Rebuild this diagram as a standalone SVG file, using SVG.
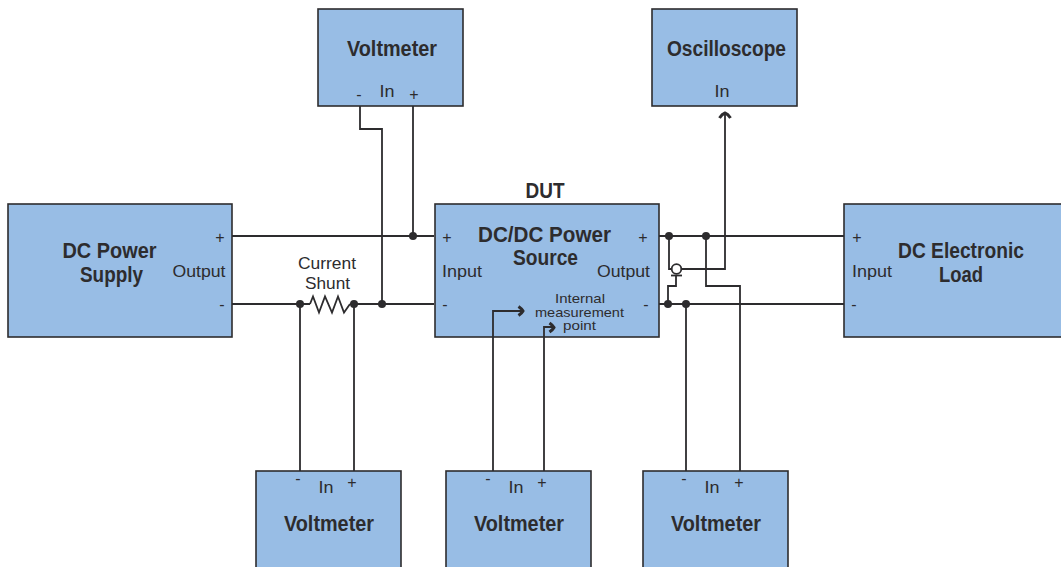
<svg xmlns="http://www.w3.org/2000/svg" width="1061" height="567" viewBox="0 0 1061 567">
<defs>
<style>
.box{fill:#98bde5;stroke:#2d2c2e;stroke-width:1.6}
.w{fill:none;stroke:#2d2c2e;stroke-width:1.8}
.a{fill:none;stroke:#2d2c2e;stroke-width:3}
.d{fill:#2d2c2e}
text{font-family:"Liberation Sans",Arial,sans-serif;fill:#2d2c2e;text-anchor:middle}
.t{font-size:22px;font-weight:bold}
.l{font-size:17px}
.s{font-size:13.500px}
.n{font-size:16px}
</style>
</defs>
<rect width="1061" height="567" fill="#ffffff"/>
<g id="voltmeter-top">
<rect class="box" x="318" y="9" width="145" height="97"/>
<text class="t" x="392" y="56" textLength="90" lengthAdjust="spacingAndGlyphs">Voltmeter</text>
<text class="n" x="359" y="100">-</text>
<text class="l" x="387" y="97" textLength="15" lengthAdjust="spacingAndGlyphs">In</text>
<text class="n" x="414" y="100">+</text>
</g>
<g id="oscilloscope">
<rect class="box" x="652" y="9" width="145" height="97"/>
<text class="t" x="726.500" y="56" textLength="119" lengthAdjust="spacingAndGlyphs">Oscilloscope</text>
<text class="l" x="722" y="97" textLength="15" lengthAdjust="spacingAndGlyphs">In</text>
</g>
<g id="dc-power-supply">
<rect class="box" x="8" y="204" width="224" height="133"/>
<text class="t" x="109.500" y="258" textLength="94" lengthAdjust="spacingAndGlyphs">DC Power</text>
<text class="t" x="111.500" y="282" textLength="63" lengthAdjust="spacingAndGlyphs">Supply</text>
<text class="n" x="220" y="243">+</text>
<text class="l" x="199" y="277" textLength="53" lengthAdjust="spacingAndGlyphs">Output</text>
<text class="n" x="222" y="310">-</text>
</g>
<g id="dut">
<text class="t" x="545" y="198" textLength="39" lengthAdjust="spacingAndGlyphs">DUT</text>
<rect class="box" x="435" y="204" width="224" height="133"/>
<text class="t" x="544.500" y="242" textLength="133" lengthAdjust="spacingAndGlyphs">DC/DC Power</text>
<text class="t" x="545.500" y="265" textLength="65" lengthAdjust="spacingAndGlyphs">Source</text>
<text class="n" x="447" y="243">+</text>
<text class="l" x="462" y="277" textLength="40" lengthAdjust="spacingAndGlyphs">Input</text>
<text class="n" x="445" y="310">-</text>
<text class="n" x="643" y="243">+</text>
<text class="l" x="623.500" y="277" textLength="53" lengthAdjust="spacingAndGlyphs">Output</text>
<text class="n" x="646" y="310">-</text>
<text class="s" x="580" y="303" textLength="50" lengthAdjust="spacingAndGlyphs">Internal</text>
<text class="s" x="579.500" y="316.500" textLength="89" lengthAdjust="spacingAndGlyphs">measurement</text>
<text class="s" x="579.500" y="330" textLength="33" lengthAdjust="spacingAndGlyphs">point</text>
</g>
<g id="shunt-label">
<text class="l" x="327" y="269" textLength="58" lengthAdjust="spacingAndGlyphs">Current</text>
<text class="l" x="327.500" y="289" textLength="45" lengthAdjust="spacingAndGlyphs">Shunt</text>
</g>
<g id="dc-electronic-load">
<rect class="box" x="844" y="204" width="224" height="133"/>
<text class="t" x="961" y="258" textLength="126" lengthAdjust="spacingAndGlyphs">DC Electronic</text>
<text class="t" x="961" y="282" textLength="44" lengthAdjust="spacingAndGlyphs">Load</text>
<text class="n" x="857" y="243">+</text>
<text class="l" x="872" y="277" textLength="40" lengthAdjust="spacingAndGlyphs">Input</text>
<text class="n" x="854" y="310">-</text>
</g>
<g id="voltmeter-1">
<rect class="box" x="256" y="471" width="145" height="110"/>
<text class="n" x="298" y="484">-</text>
<text class="l" x="326" y="493" textLength="15" lengthAdjust="spacingAndGlyphs">In</text>
<text class="n" x="352" y="488">+</text>
<text class="t" x="329" y="531" textLength="90" lengthAdjust="spacingAndGlyphs">Voltmeter</text>
</g>
<g id="voltmeter-2">
<rect class="box" x="446" y="471" width="145" height="110"/>
<text class="n" x="488" y="484">-</text>
<text class="l" x="516" y="493" textLength="15" lengthAdjust="spacingAndGlyphs">In</text>
<text class="n" x="542" y="488">+</text>
<text class="t" x="519" y="531" textLength="90" lengthAdjust="spacingAndGlyphs">Voltmeter</text>
</g>
<g id="voltmeter-3">
<rect class="box" x="643" y="471" width="145" height="110"/>
<text class="n" x="684" y="484">-</text>
<text class="l" x="712" y="493" textLength="15" lengthAdjust="spacingAndGlyphs">In</text>
<text class="n" x="739" y="488">+</text>
<text class="t" x="716" y="531" textLength="90" lengthAdjust="spacingAndGlyphs">Voltmeter</text>
</g>
<g id="connectors">
<path class="w" d="M232 236H434M232 304H310M350 304H434"/>
<path class="w" d="M310 304L313 296.500L319 312.500L325 296.500L332 312.500L338 296.500L344 312.500L350 304"/>
<path class="w" d="M300 304V471M354 304V471"/>
<path class="w" d="M413 106V236M360 106V129H382V304"/>
<path class="w" d="M659 236H844M659 304H844"/>
<path class="w" d="M669 236V269H672M681 269H725V113"/>
<path class="a" d="M719.500 118Q722 114 725 113Q728 114 730.500 118"/>
<path class="w" d="M706 236V286H740V471M686 304V471"/>
<path class="w" d="M676 275V286H668V304"/>
<circle cx="676.500" cy="269" r="4.800" fill="#ffffff" stroke="#2d2c2e" stroke-width="1.800"/>
<path class="w" d="M671 275.500H682"/>
<path class="w" d="M493 471V311H522"/>
<path class="a" d="M518.500 306.500Q522 309 523 311Q522 313 518.500 315.500"/>
<path class="w" d="M544 471V327H553"/>
<path class="a" d="M549.500 323Q553 325.500 554 327.500Q553 329.500 549.500 332"/>
<circle class="d" cx="300" cy="304" r="4"/>
<circle class="d" cx="354" cy="304" r="4"/>
<circle class="d" cx="382" cy="304" r="4"/>
<circle class="d" cx="413" cy="236" r="4"/>
<circle class="d" cx="669" cy="236" r="4"/>
<circle class="d" cx="706" cy="236" r="4"/>
<circle class="d" cx="668" cy="304" r="4"/>
<circle class="d" cx="686" cy="304" r="4"/>
</g>
</svg>
